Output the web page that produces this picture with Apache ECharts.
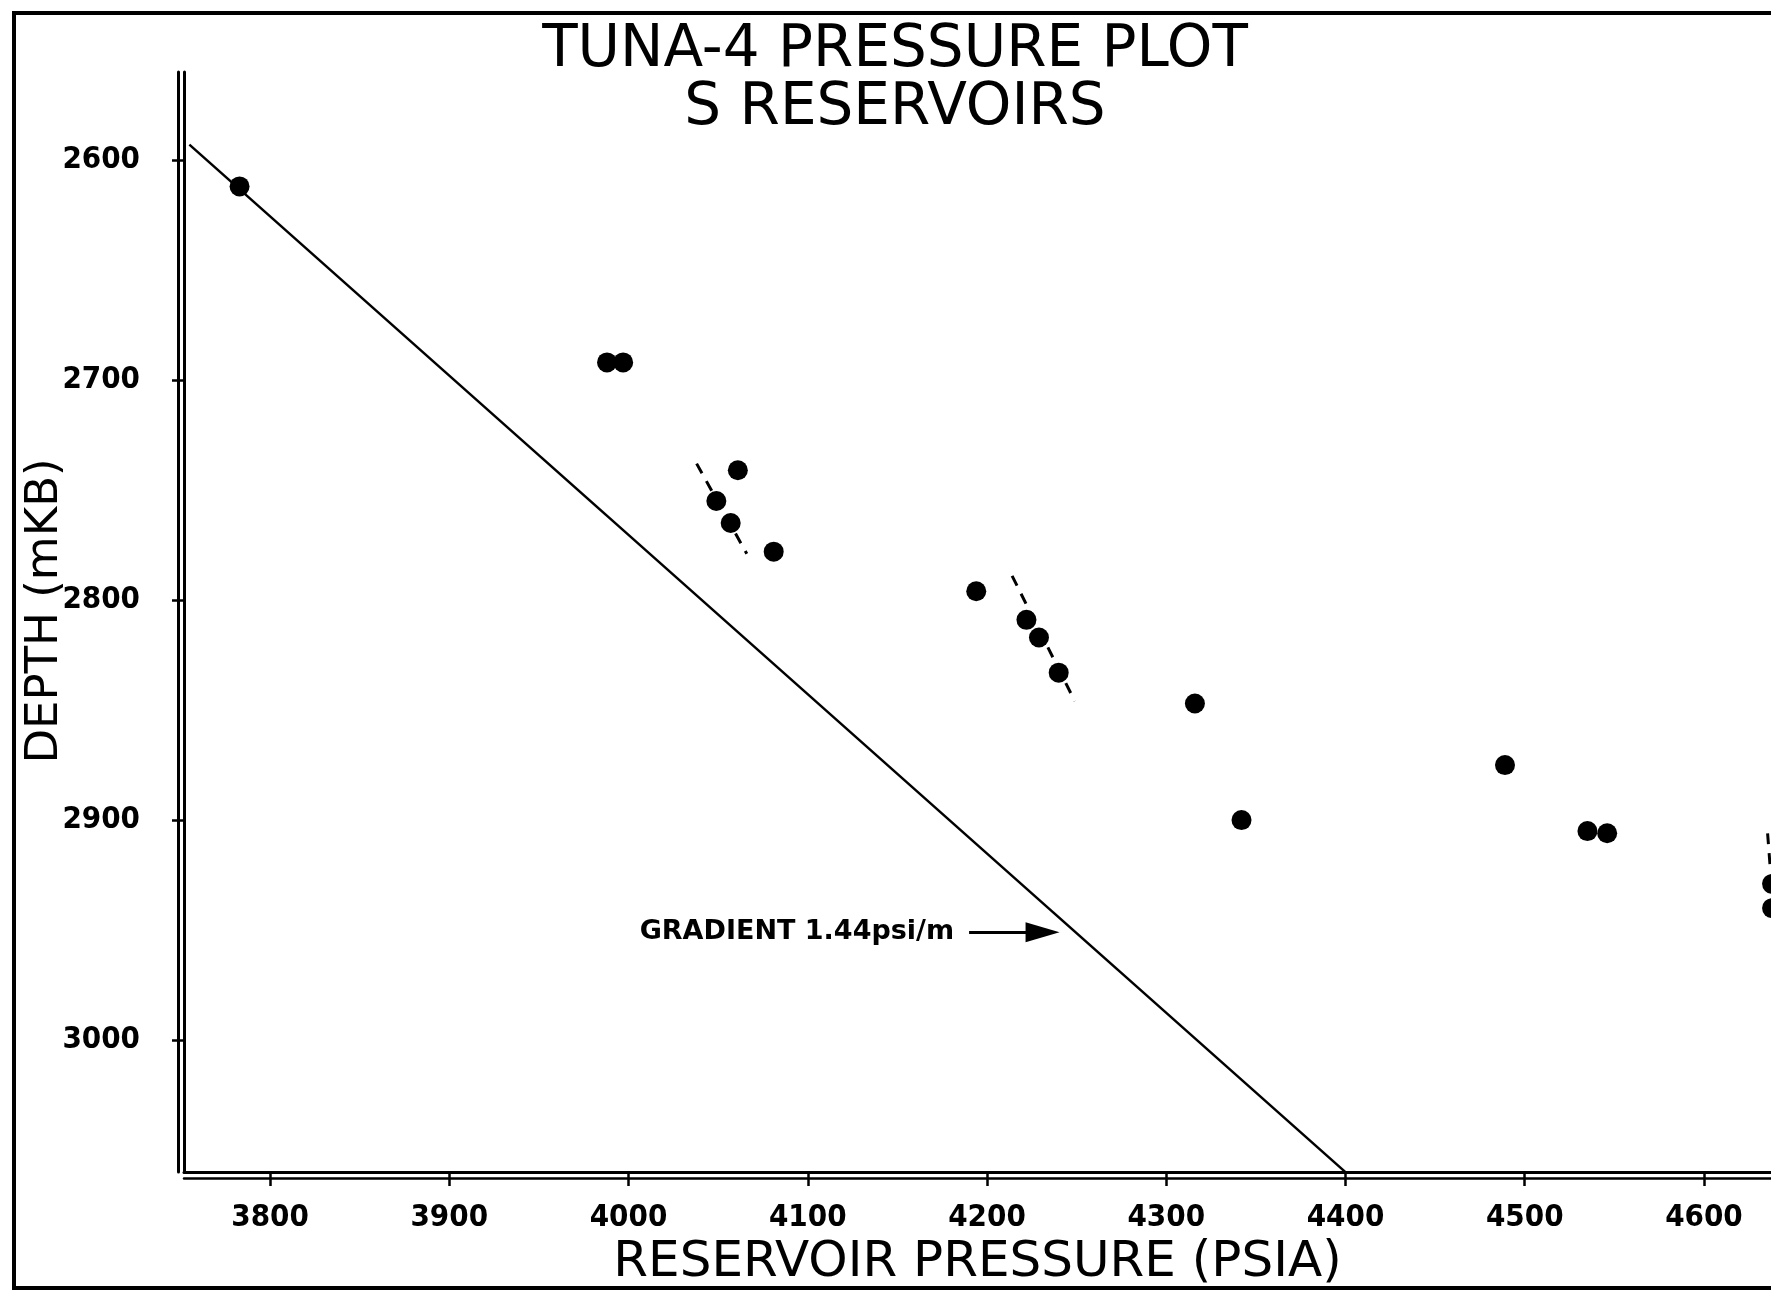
<!DOCTYPE html>
<html>
<head>
<meta charset="utf-8">
<script src="https://cdn.jsdelivr.net/npm/echarts@6/dist/echarts.min.js"></script>
<style>
  html, body { margin: 0; padding: 0; background: #fff; }
  #chart { width: 1771px; height: 1293px; }
</style>
</head>
<body>
<div id="chart"></div>
<script>
// measured values (psia vs mKB)
const pressure = [3783, 3988, 3997, 4061, 4049, 4057, 4081, 4194, 4222, 4229, 4240, 4316, 4342, 4489, 4535, 4546, 4638, 4638];
const depth = [2612, 2692, 2692, 2741, 2755, 2765, 2778, 2796, 2809, 2817, 2833, 2847, 2900, 2875, 2905, 2906, 2929, 2940];
// 1.44 psi/m gradient line
const gradientLine = [[3755, 2593], [4400, 3060]];
// dashed local trends through pressure points
const trendA = [[4038, 2738], [4066, 2779]];
const trendB = [[4214, 2789], [4249, 2846]];
const trendC = [[4635.5, 2906], [4637, 2922]];
const arrowLine = [[4190, 2951], [4231, 2951]];
const pressureTicks = [3800, 3900, 4000, 4100, 4200, 4300, 4400, 4500, 4600];
const depthTicks = [2600, 2700, 2800, 2900, 3000];

const FONT = "'DejaVu Sans', sans-serif";
const FONT_NARROW = "'DejaVu Sans Condensed', 'DejaVu Sans', sans-serif";
const chart = echarts.init(document.getElementById("chart"));

const dashed = (d) => ({
  type: "line",
  data: d,
  showSymbol: false,
  silent: true,
  lineStyle: { color: "#000", width: 3, type: [11, 9] },
  z: 3,
});

// second thin axis line to get the double-ruled look of the original
const ruleX = {
  type: "value", min: 3752, max: 4637.4, position: "bottom", offset: 6,
  axisLine: { show: true, onZero: false, lineStyle: { color: "#000", width: 2.5 } },
  axisTick: { show: false }, axisLabel: { show: false }, splitLine: { show: false },
};
const ruleY = {
  type: "value", inverse: true, min: 2560, max: 3060, position: "left", offset: 6,
  axisLine: { show: true, onZero: false, lineStyle: { color: "#000", width: 3 } },
  axisTick: { show: false }, axisLabel: { show: false }, splitLine: { show: false },
};

chart.setOption({
  backgroundColor: "#fff",
  animation: false,
  title: {
    text: "TUNA-4 PRESSURE PLOT\nS RESERVOIRS",
    left: 890,
    top: 17,
    textAlign: "center",
    textStyle: { fontFamily: FONT, fontSize: 58, fontWeight: "normal", lineHeight: 58, color: "#000" },
  },
  grid: { left: 184, top: 72, right: 0, bottom: 117 },
  xAxis: [
    {
      type: "value",
      min: 3752,
      max: 4637.4,
      name: "RESERVOIR PRESSURE (PSIA)",
      nameLocation: "middle",
      nameGap: 60,
      nameTextStyle: { fontFamily: FONT, fontSize: 50, color: "#000" },
      axisLine: { show: true, onZero: false, lineStyle: { color: "#000", width: 3 } },
      axisTick: { show: true, customValues: pressureTicks, length: 14, lineStyle: { color: "#000", width: 2.5 } },
      axisLabel: {
        customValues: pressureTicks, margin: 30, formatter: (v) => String(v),
        fontFamily: FONT_NARROW, fontSize: 31, fontWeight: "bold", color: "#000",
      },
      splitLine: { show: false },
    },
    ruleX,
  ],
  yAxis: [
    {
      type: "value",
      inverse: true,
      min: 2560,
      max: 3060,
      axisLine: { show: true, onZero: false, lineStyle: { color: "#000", width: 3 } },
      axisTick: { show: true, customValues: depthTicks, length: 12, lineStyle: { color: "#000", width: 2.5 } },
      axisLabel: {
        customValues: depthTicks, margin: 44, formatter: (v) => String(v),
        fontFamily: FONT_NARROW, fontSize: 31, fontWeight: "bold", color: "#000",
      },
      splitLine: { show: false },
    },
    ruleY,
  ],
  graphic: [
    {
      type: "rect",
      shape: { x: 14, y: 13, width: 1800, height: 1275 },
      style: { fill: null, stroke: "#000", lineWidth: 4 },
      silent: true,
    },
    {
      type: "text",
      x: 45,
      y: 611,
      rotation: Math.PI / 2,
      style: {
        text: "DEPTH (mKB)",
        font: "normal 45px " + FONT,
        fill: "#000",
        textAlign: "center",
        textVerticalAlign: "middle",
      },
      silent: true,
    },
  ],
  series: [
    {
      type: "line",
      data: gradientLine,
      showSymbol: false,
      silent: true,
      lineStyle: { color: "#000", width: 2.5 },
      z: 2,
      markLine: {
        silent: true,
        symbol: ["none", "triangle"],
        symbolSize: [20, 34],
        lineStyle: { color: "#000", width: 3, type: "solid" },
        label: {
          show: true,
          position: "start",
          distance: 15,
          formatter: "GRADIENT 1.44psi/m",
          fontFamily: FONT,
          fontWeight: "bold",
          fontSize: 27,
          color: "#000",
        },
        data: [[{ coord: arrowLine[0] }, { coord: arrowLine[1] }]],
      },
    },
    dashed(trendA),
    dashed(trendB),
    dashed(trendC),
    {
      type: "scatter",
      data: pressure.map((p, i) => [p, depth[i]]),
      symbol: "circle",
      symbolSize: 20,
      clip: false,
      itemStyle: { color: "#000", opacity: 1 },
      z: 4,
    },
  ],
});
</script>
</body>
</html>
